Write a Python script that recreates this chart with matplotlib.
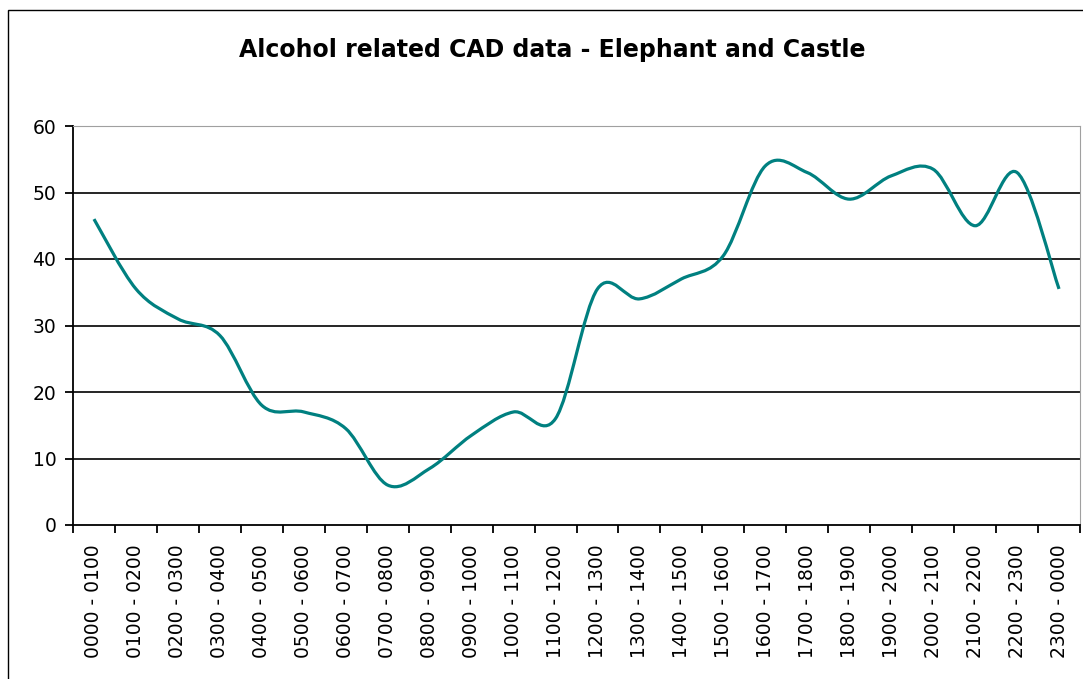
import numpy as np
import matplotlib
matplotlib.use("Agg")
import matplotlib.pyplot as plt
from matplotlib.path import Path
from matplotlib.patches import PathPatch, Rectangle

# hourly slots and counts
hours = ["0000 - 0100", "0100 - 0200", "0200 - 0300", "0300 - 0400",
         "0400 - 0500", "0500 - 0600", "0600 - 0700", "0700 - 0800",
         "0800 - 0900", "0900 - 1000", "1000 - 1100", "1100 - 1200",
         "1200 - 1300", "1300 - 1400", "1400 - 1500", "1500 - 1600",
         "1600 - 1700", "1700 - 1800", "1800 - 1900", "1900 - 2000",
         "2000 - 2100", "2100 - 2200", "2200 - 2300", "2300 - 0000"]
counts = [46, 35.5, 31, 28.5, 18, 17, 14.5, 6, 8.5, 13.5, 17, 16,
          35.5, 34, 37, 40.5, 54, 53, 49, 52.5, 53.5, 45, 53, 35.5]
y_ticks = [0, 10, 20, 30, 40, 50, 60]

TEAL = "#008080"
FONT = "DejaVu Sans"


def smooth_path(xs, ys):
    """Excel-like smoothed line: cubic bezier through every point (Catmull-Rom)."""
    pts = np.column_stack([xs, ys]).astype(float)
    verts = [pts[0]]
    codes = [Path.MOVETO]
    n = len(pts)
    for i in range(n - 1):
        p0 = pts[i - 1] if i > 0 else pts[i]
        p1 = pts[i]
        p2 = pts[i + 1]
        p3 = pts[i + 2] if i + 2 < n else pts[i + 1]
        c1 = p1 + (p2 - p0) / 6.0
        c2 = p2 - (p3 - p1) / 6.0
        verts += [c1, c2, p2]
        codes += [Path.CURVE4] * 3
    return Path(verts, codes)


fig = plt.figure(figsize=(10.83, 6.79), dpi=100)
fig.patch.set_facecolor("white")

# chart area border (runs off the right and bottom edge like the screenshot)
fig.patches.append(Rectangle((8 / 1083, -0.1), 1.2, 1 - 10 / 679 + 0.1,
                             transform=fig.transFigure, fill=False,
                             edgecolor="black", linewidth=1.0))

ax = fig.add_axes([73 / 1083, 1 - 525 / 679, (1080 - 73) / 1083, (525 - 126) / 679])

x = np.arange(len(hours)) + 0.5
ax.add_patch(PathPatch(smooth_path(x, counts), fill=False, edgecolor=TEAL,
                       linewidth=2.3, capstyle="butt", joinstyle="round", zorder=3))

ax.set_xlim(0, len(hours))
ax.set_ylim(0, 60)

for v in y_ticks[1:-1]:
    ax.axhline(v, color="black", linewidth=1.2, zorder=1)

ax.spines["top"].set_color("#a0a0a0")
ax.spines["right"].set_color("#a0a0a0")
ax.spines["left"].set_linewidth(1.3)
ax.spines["bottom"].set_linewidth(1.3)

ax.set_yticks(y_ticks)
ax.set_yticklabels([str(v) for v in y_ticks], fontsize=13.5, family=FONT)
ax.tick_params(axis="y", length=6, width=1.3, pad=6)

ax.set_xticks(np.arange(len(hours) + 1))
ax.set_xticklabels([])
ax.tick_params(axis="x", which="major", length=6, width=1.3)
ax.set_xticks(x, minor=True)
ax.set_xticklabels(hours, minor=True, rotation=90, fontsize=13.5, family=FONT)
ax.tick_params(axis="x", which="minor", length=0, pad=14)

fig.text(552 / 1083, 1 - 50 / 679, "Alcohol related CAD data - Elephant and Castle",
         ha="center", va="center", fontsize=17, fontweight="bold", family=FONT)

fig.savefig("out.png", dpi=100)
